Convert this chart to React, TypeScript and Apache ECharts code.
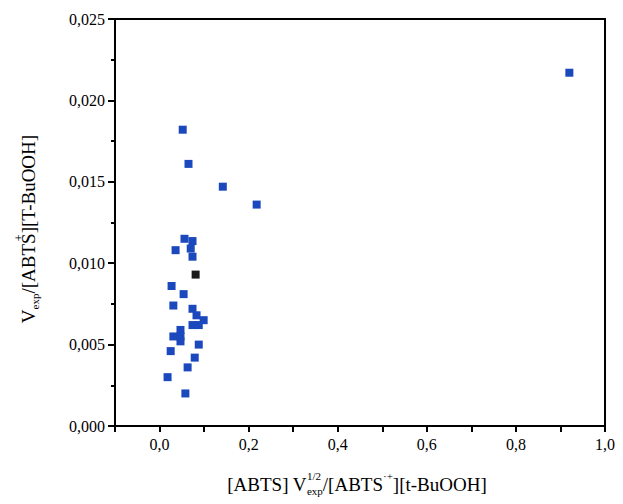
import React, { useEffect, useRef } from "react";
import * as echarts from "echarts";

const blueX = [0.052, 0.065, 0.142, 0.218, 0.92, 0.056, 0.074, 0.036, 0.070, 0.074, 0.027, 0.054, 0.031, 0.074, 0.083, 0.099, 0.074, 0.088, 0.047, 0.031, 0.047, 0.047, 0.025, 0.088, 0.079, 0.063, 0.018, 0.058];
const blueY = [0.0182, 0.0161, 0.0147, 0.0136, 0.0217, 0.0115, 0.01136, 0.0108, 0.0109, 0.0104, 0.0086, 0.0081, 0.0074, 0.0072, 0.0068, 0.0065, 0.0062, 0.0062, 0.0059, 0.0055, 0.0055, 0.0052, 0.0046, 0.0050, 0.0042, 0.0036, 0.0030, 0.0020];
const blackX = [0.081];
const blackY = [0.0093];

const FONT = "Liberation Serif";

type Piece = { t: string; size: number; dy: number; back?: number; noAdvance?: boolean; stackWithPrev?: boolean };

function measure(t: string, size: number) {
  const c = document.createElement("canvas").getContext("2d")!;
  c.font = `${size}px "${FONT}"`;
  return c.measureText(t).width;
}

function buildTitle(pieces: Piece[], cx: number, cy: number, rotate: boolean) {
  let x = 0;
  let prevStart = 0;
  let prevW = 0;
  const kids: any[] = [];
  pieces.forEach((p) => {
    const w = measure(p.t, p.size);
    let px = x;
    if (p.stackWithPrev) {
      px = prevStart;
      x = prevStart + Math.max(w, prevW);
    } else if (p.noAdvance) {
      px = x - (p.back || 0);
    } else {
      x += w;
    }
    if (!p.stackWithPrev) { prevStart = px; prevW = w; }
    kids.push({
      type: "text", x: px, y: p.dy,
      style: { text: p.t, fontSize: p.size, fontFamily: FONT, fill: "#000", textAlign: "left", textVerticalAlign: "middle" },
    });
  });
  const total = x;
  kids.forEach((k) => { k.x -= total / 2; });
  return { type: "group", x: cx, y: cy, rotation: rotate ? Math.PI / 2 : 0, children: kids };
}

export default function App() {
  const ref = useRef<HTMLDivElement>(null);
  useEffect(() => {
    const chart = echarts.init(ref.current!, null, { renderer: "svg" });
    const comma = (v: number, d: number) => v.toFixed(d).replace(".", ",");
    const xLabel = (v: number) => {
      const k = Math.round(v * 10);
      return k >= 0 && k % 2 === 0 ? comma(v, 1) : "";
    };
    const sW = measure("S", 19);
    const xTitle = buildTitle([
      { t: "[ABTS] V", size: 19, dy: 0 },
      { t: "exp", size: 11, dy: 7 },
      { t: "1/2", size: 11, dy: -8, stackWithPrev: true },
      { t: "/[ABTS", size: 19, dy: 0 },
      { t: "·+", size: 11, dy: -8 },
      { t: "][t-BuOOH]", size: 19, dy: 0 },
    ], 349, 476, false);
    const yTitle = buildTitle([
      { t: "V", size: 19, dy: 0 },
      { t: "exp", size: 11, dy: 7 },
      { t: "/[ABTS", size: 19, dy: 0 },
      { t: "+", size: 12, dy: -9, noAdvance: true, back: sW * 0.75 },
      { t: "][T-BuOOH]", size: 19, dy: 0 },
    ], 20, 221, true);
    chart.setOption({
      animation: false,
      grid: { left: 107, right: 18, top: 11, bottom: 78, show: true, borderColor: "#000", borderWidth: 2 },
      xAxis: {
        type: "value", min: -0.1, max: 1.0, interval: 0.1,
        axisLine: { show: true, onZero: false, lineStyle: { color: "#000", width: 2 } },
        axisTick: { show: true, inside: false, length: 6, lineStyle: { color: "#000", width: 2 } },
        axisLabel: { formatter: xLabel, fontSize: 16, color: "#000", fontFamily: FONT, margin: 10 },
        splitLine: { show: false },
      },
      yAxis: {
        type: "value", min: 0, max: 0.025, interval: 0.005,
        axisLine: { show: true, onZero: false, lineStyle: { color: "#000", width: 2 } },
        axisTick: { show: true, inside: false, length: 7, lineStyle: { color: "#000", width: 2 } },
        minorTick: { show: true, splitNumber: 2, length: 4, lineStyle: { color: "#000", width: 2 } },
        axisLabel: { formatter: (v: number) => comma(v, 3), fontSize: 16, color: "#000", fontFamily: FONT, margin: 10 },
        splitLine: { show: false },
      },
      graphic: [xTitle, yTitle],
      series: [
        {
          type: "scatter", symbol: "rect", symbolSize: 8,
          itemStyle: { color: "#1b48bd", opacity: 1 },
          data: blueX.map((x, i) => [x, blueY[i]]),
        },
        {
          type: "scatter", symbol: "rect", symbolSize: 8,
          itemStyle: { color: "#1a1a1a", opacity: 1 },
          data: blackX.map((x, i) => [x, blackY[i]]),
        },
      ],
    });
    return () => chart.dispose();
  }, []);
  return <div ref={ref} style={{ width: 615, height: 496 }} />;
}
